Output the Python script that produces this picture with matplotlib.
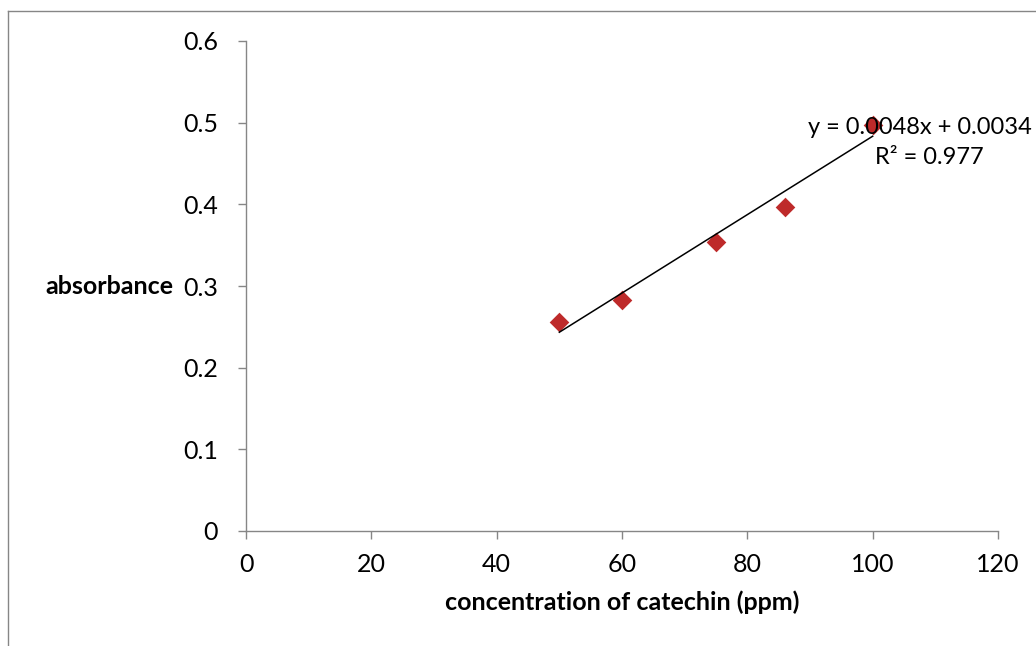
import numpy as np
import matplotlib as mpl
from matplotlib import pyplot as plt
from matplotlib.lines import Line2D

# data
conc = [50, 60, 75, 86, 100]
absorb = [0.256, 0.283, 0.354, 0.397, 0.497]
slope, intercept = 0.0048, 0.0034
eq_text = "y = 0.0048x + 0.0034"
r2_text = "R² = 0.977"
x_ticks = [0, 20, 40, 60, 80, 100, 120]
y_ticks = [0, 0.1, 0.2, 0.3, 0.4, 0.5, 0.6]

plt.rcParams['font.family'] = ['Lato', 'DejaVu Sans']
grey = '#868686'

fig = plt.figure(figsize=(10.36, 6.46), dpi=100)
ax = fig.add_axes([246/1036, 115/646, 752/1036, 490/646])

ax.scatter(conc, absorb, marker='D', s=10**2, color='#BE2A2A', zorder=2, linewidths=0)
xs = np.array([min(conc), max(conc)])
ax.plot(xs, slope*xs + intercept, color='black', lw=1.1, zorder=3)

ax.set_xlim(0, 120)
ax.set_ylim(0, 0.6)
ax.set_xticks(x_ticks)
ax.set_yticks(y_ticks)
ax.set_xticklabels([str(t) for t in x_ticks])
ax.set_yticklabels([f"{t:g}" for t in y_ticks])
for s in ['top', 'right']:
    ax.spines[s].set_visible(False)
for s in ['left', 'bottom']:
    ax.spines[s].set_color(grey)
    ax.spines[s].set_linewidth(1.0)
ax.tick_params(colors=grey, labelcolor='black', labelsize=18, length=6, width=1.0, direction='out')
ax.tick_params(axis='x', pad=10)
ax.tick_params(axis='y', pad=14)

ax.set_xlabel('concentration of catechin (ppm)', fontsize=18, fontweight='bold', labelpad=10)
fig.text(45/1036, 1 - 287/646, 'absorbance', fontsize=18, fontweight='bold', va='center', ha='left')

# equation sits at the right edge; kept just inside the figure
fig.text(1032/1036, 1 - 127/646, eq_text, fontsize=17, va='center', ha='right')
fig.text(875/1036, 1 - 157/646, r2_text, fontsize=17, va='center', ha='left')

# outer chart frame (top and left edges visible)
fig.add_artist(Line2D([8/1036, 1], [1 - 11/646, 1 - 11/646], color=grey, lw=1.0, transform=fig.transFigure))
fig.add_artist(Line2D([8/1036, 8/1036], [0, 1 - 11/646], color=grey, lw=1.0, transform=fig.transFigure))

fig.savefig('out.png', dpi=100)
